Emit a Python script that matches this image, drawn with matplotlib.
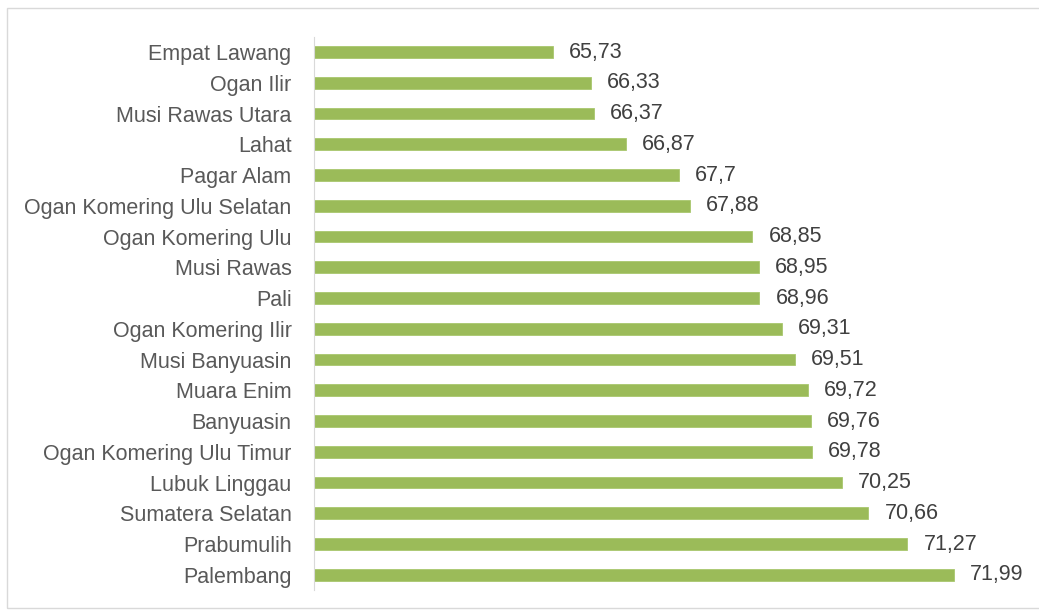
import matplotlib.pyplot as plt
from matplotlib.patches import Rectangle

regions = [
    "Empat Lawang", "Ogan Ilir", "Musi Rawas Utara", "Lahat", "Pagar Alam",
    "Ogan Komering Ulu Selatan", "Ogan Komering Ulu", "Musi Rawas", "Pali",
    "Ogan Komering Ilir", "Musi Banyuasin", "Muara Enim", "Banyuasin",
    "Ogan Komering Ulu Timur", "Lubuk Linggau", "Sumatera Selatan",
    "Prabumulih", "Palembang",
]
values = [65.73, 66.33, 66.37, 66.87, 67.7, 67.88, 68.85, 68.95, 68.96,
          69.31, 69.51, 69.72, 69.76, 69.78, 70.25, 70.66, 71.27, 71.99]

plt.rcParams['font.family'] = ['Liberation Sans', 'DejaVu Sans']

fig = plt.figure(figsize=(10.39, 6.11), dpi=100)
ax = fig.add_axes([0.302, 0.034, 0.678, 0.906])

pos = list(range(len(regions)))
ax.barh(pos, [v - 62 for v in values], left=62, height=0.38, color="#9BBB59",
        edgecolor="#A9C76E", linewidth=0.6)
ax.set_xlim(62, 73)
ax.set_ylim(len(regions) - 0.5, -0.5)
ax.set_yticks(pos)
ax.set_yticklabels(regions, fontsize=15.5, color="#595959")
ax.tick_params(axis="y", length=0, pad=16)
ax.set_xticks([])

for p, v in zip(pos, values):
    label = f"{v:g}".replace(".", ",")
    ax.text(v + 0.25, p, label, va="center", ha="left", fontsize=15.5, color="#404040")

for s in ["top", "right", "bottom"]:
    ax.spines[s].set_visible(False)
ax.spines["left"].set_color("#D9D9D9")

fig.patches.append(Rectangle((7 / 1039, 3 / 611), 1.1, (611 - 11) / 611,
                             transform=fig.transFigure, fill=False,
                             edgecolor="#D9D9D9", linewidth=1))

fig.savefig("out.png", dpi=100)
